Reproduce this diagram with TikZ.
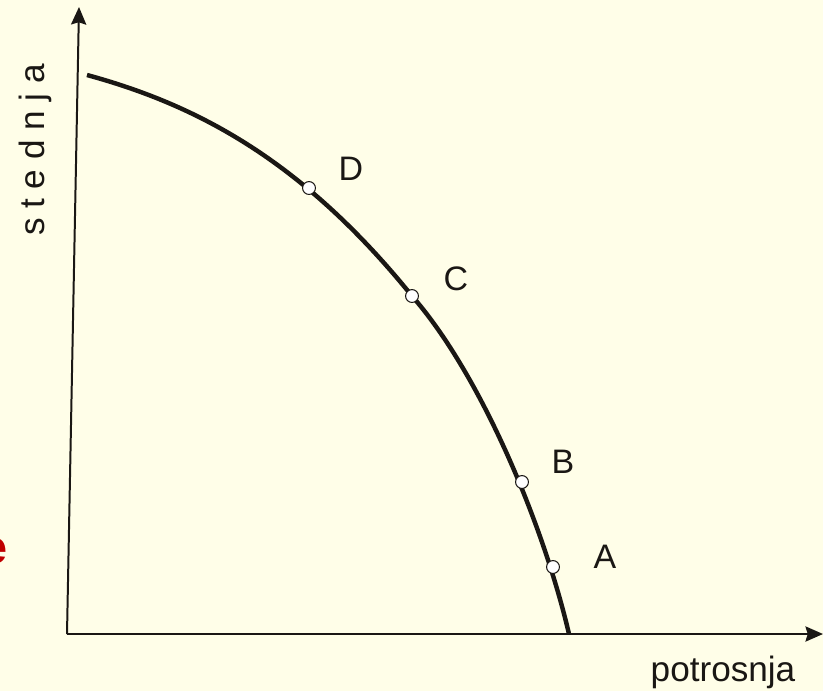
\documentclass[tikz,border=0pt]{standalone}
\usepackage{fontspec}
\setmainfont{Liberation Sans}
\usepackage{xcolor}
\usetikzlibrary{arrows.meta, positioning}
\definecolor{fond}{HTML}{FFFEE8}
\definecolor{trait}{HTML}{1A1714}
\definecolor{rouge}{HTML}{C00000}
\tikzset{
  axe/.style={-{Stealth[length=15pt, width=13pt, inset=2pt]}, line width=1.7pt, color=trait},
  courbe/.style={line width=3.8pt, color=trait, line cap=butt},
  point/.style={circle, draw=trait, fill=white, line width=0.9pt, minimum size=11pt, inner sep=0pt},
  lettre/.style={font=\fontsize{29}{32}\selectfont, text=trait, inner sep=0pt},
  titreaxe/.style={font=\fontsize{30}{34}\selectfont, text=trait, inner sep=0pt}
}

\begin{document}
\begin{tikzpicture}[x=0.03cm, y=-0.03cm]
    % Cadre et fond
    \fill[fond] (0,0) rectangle (823,691);
    \useasboundingbox (0,0) rectangle (823,691);

    % Texte coupe a gauche
    \node[font=\fontsize{40}{44}\selectfont\bfseries, text=rouge, inner sep=0pt,
          anchor=east] (coupe) at (8,551) {e};

    % Axes
    \coordinate (o) at (67,634);
    \coordinate (ytip) at (79,7);
    \coordinate (xtip) at (823,634);
    \draw[axe] (o) -- (ytip);
    \draw[axe] (o) -- (xtip);

    % Frontiere
    \coordinate (debut) at (87,75);
    \coordinate (pD) at (309,188);
    \coordinate (pC) at (412,296);
    \coordinate (pB) at (522,482);
    \coordinate (pA) at (553,567);
    \coordinate (fin) at (569,634);
    \draw[courbe] (debut) .. controls (197,105) and (302,160) .. (pC)
      .. controls (482,376) and (544,527) .. (fin);

    % Points
    \foreach \p in {A,B,C,D}
      \node[point] (n\p) at (p\p) {};

    % Etiquettes
    \node[lettre] (lD) at (351,169) {D};
    \node[lettre] (lC) at (456,279) {C};
    \node[lettre] (lB) at (563,462) {B};
    \node[lettre] (lA) at (605,557) {A};

    \node[titreaxe] (xlab) at (723,672) {potrosnja};
    \node[titreaxe, rotate=90] (ylab) at (35,150) {s t e d n j a};
\end{tikzpicture}
\end{document}
